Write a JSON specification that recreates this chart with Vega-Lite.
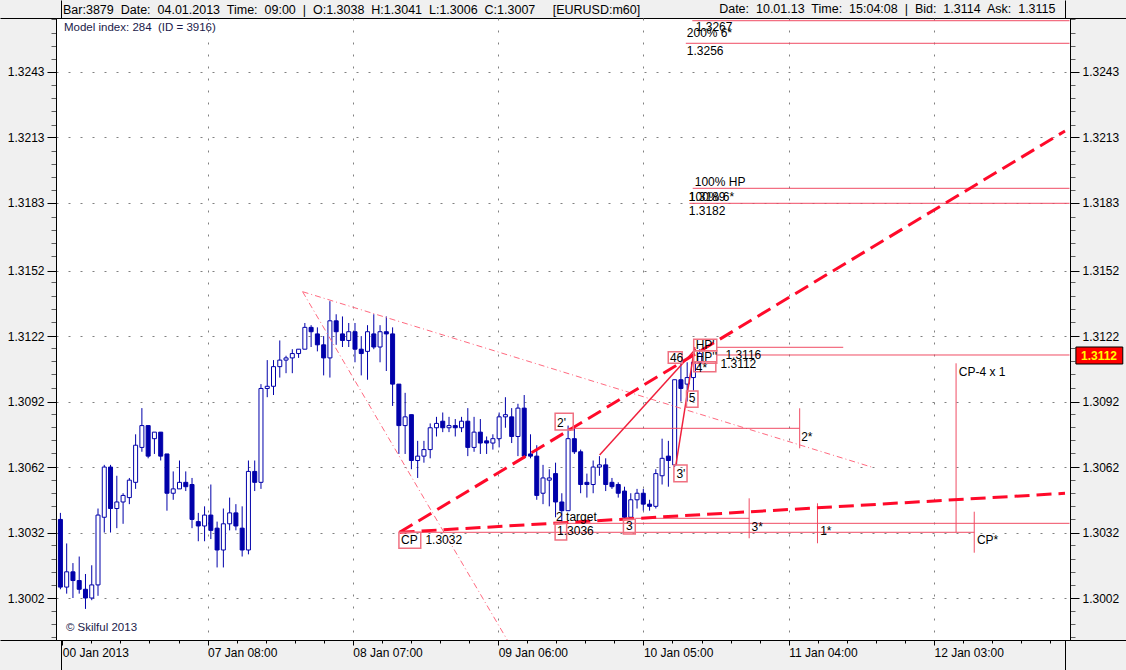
{
  "$schema": "https://vega.github.io/schema/vega-lite/v6.json",
  "width": 1014,
  "height": 622,
  "autosize": {"type": "none"},
  "padding": {"left": 56, "top": 18, "right": 56, "bottom": 30},
  "background": "#f0f0f0",
  "config": {
    "view": {"fill": "#ffffff", "stroke": "#000000", "strokeWidth": 1},
    "axis": {"labelFont": "Liberation Sans", "labelFontSize": 12, "labelColor": "#000000", "domainColor": "#000000", "titleFont": "Liberation Sans"}
  },
  "title": {
    "text": "Bar:3879\u00a0 Date:\u00a0 04.01.2013\u00a0 Time:\u00a0 09:00\u00a0 |\u00a0 O:1.3038\u00a0 H:1.3041\u00a0 L:1.3006\u00a0 C:1.3007\u00a0\u00a0\u00a0\u00a0 [EURUSD:m60]",
    "anchor": "start", "frame": "group", "dx": 7, "offset": -23, "baseline": "middle",
    "font": "Liberation Sans", "fontSize": 12.5, "fontWeight": "normal", "color": "#000000"
  },
  "datasets": {
    "candles": [
      {"i":0,"o":1.3038,"h":1.3041,"l":1.3006,"c":1.3007},
      {"i":1,"o":1.3007,"h":1.3027,"l":1.3004,"c":1.3014},
      {"i":2,"o":1.3014,"h":1.3018,"l":1.3002,"c":1.3010},
      {"i":3,"o":1.3010,"h":1.3021,"l":1.3004,"c":1.3006},
      {"i":4,"o":1.3006,"h":1.3013,"l":1.2997,"c":1.3002},
      {"i":5,"o":1.3002,"h":1.3017,"l":1.3001,"c":1.3008},
      {"i":6,"o":1.3008,"h":1.3043,"l":1.3003,"c":1.3040},
      {"i":7,"o":1.3039,"h":1.3063,"l":1.3032,"c":1.3062},
      {"i":8,"o":1.3062,"h":1.3063,"l":1.3032,"c":1.3043},
      {"i":9,"o":1.3043,"h":1.3058,"l":1.3034,"c":1.3046},
      {"i":10,"o":1.3046,"h":1.3050,"l":1.3036,"c":1.3049},
      {"i":11,"o":1.3048,"h":1.3057,"l":1.3045,"c":1.3056},
      {"i":12,"o":1.3055,"h":1.3077,"l":1.3052,"c":1.3072},
      {"i":13,"o":1.3071,"h":1.3089,"l":1.3069,"c":1.3081},
      {"i":14,"o":1.3081,"h":1.3081,"l":1.3066,"c":1.3067},
      {"i":15,"o":1.3075,"h":1.3078,"l":1.3068,"c":1.3078},
      {"i":16,"o":1.3078,"h":1.3078,"l":1.3065,"c":1.3067},
      {"i":17,"o":1.3068,"h":1.3068,"l":1.3042,"c":1.3050},
      {"i":18,"o":1.3050,"h":1.3060,"l":1.3047,"c":1.3052},
      {"i":19,"o":1.3052,"h":1.3065,"l":1.3052,"c":1.3055},
      {"i":20,"o":1.3055,"h":1.3060,"l":1.3051,"c":1.3053},
      {"i":21,"o":1.3054,"h":1.3057,"l":1.3034,"c":1.3038},
      {"i":22,"o":1.3037,"h":1.3041,"l":1.3028,"c":1.3035},
      {"i":23,"o":1.3035,"h":1.3044,"l":1.3028,"c":1.3040},
      {"i":24,"o":1.3040,"h":1.3054,"l":1.3029,"c":1.3033},
      {"i":25,"o":1.3034,"h":1.3037,"l":1.3016,"c":1.3024},
      {"i":26,"o":1.3024,"h":1.3043,"l":1.3016,"c":1.3036},
      {"i":27,"o":1.3036,"h":1.3048,"l":1.3033,"c":1.3041},
      {"i":28,"o":1.3041,"h":1.3045,"l":1.3033,"c":1.3035},
      {"i":29,"o":1.3034,"h":1.3044,"l":1.3021,"c":1.3024},
      {"i":30,"o":1.3024,"h":1.3065,"l":1.3022,"c":1.3060},
      {"i":31,"o":1.3060,"h":1.3065,"l":1.3051,"c":1.3055},
      {"i":32,"o":1.3055,"h":1.3100,"l":1.3052,"c":1.3098},
      {"i":33,"o":1.3098,"h":1.3111,"l":1.3094,"c":1.3099},
      {"i":34,"o":1.3099,"h":1.3111,"l":1.3095,"c":1.3108},
      {"i":35,"o":1.3108,"h":1.3120,"l":1.3103,"c":1.3111},
      {"i":36,"o":1.3111,"h":1.3113,"l":1.3105,"c":1.3112},
      {"i":37,"o":1.3112,"h":1.3116,"l":1.3105,"c":1.3114},
      {"i":38,"o":1.3114,"h":1.3116,"l":1.3112,"c":1.3116},
      {"i":39,"o":1.3116,"h":1.3128,"l":1.3116,"c":1.3126},
      {"i":40,"o":1.3126,"h":1.3127,"l":1.3117,"c":1.3124},
      {"i":41,"o":1.3123,"h":1.3126,"l":1.3115,"c":1.3118},
      {"i":42,"o":1.3118,"h":1.3122,"l":1.3104,"c":1.3112},
      {"i":43,"o":1.3112,"h":1.3138,"l":1.3103,"c":1.3129},
      {"i":44,"o":1.3129,"h":1.3132,"l":1.3118,"c":1.3124},
      {"i":45,"o":1.3123,"h":1.3131,"l":1.3117,"c":1.3120},
      {"i":46,"o":1.3120,"h":1.3128,"l":1.3117,"c":1.3124},
      {"i":47,"o":1.3124,"h":1.3128,"l":1.3110,"c":1.3116},
      {"i":48,"o":1.3116,"h":1.3122,"l":1.3104,"c":1.3114},
      {"i":49,"o":1.3115,"h":1.3127,"l":1.3102,"c":1.3124},
      {"i":50,"o":1.3123,"h":1.3132,"l":1.3116,"c":1.3117},
      {"i":51,"o":1.3117,"h":1.3127,"l":1.3110,"c":1.3124},
      {"i":52,"o":1.3124,"h":1.3131,"l":1.3106,"c":1.3123},
      {"i":53,"o":1.3123,"h":1.3126,"l":1.3090,"c":1.3100},
      {"i":54,"o":1.3100,"h":1.3100,"l":1.3068,"c":1.3081},
      {"i":55,"o":1.3081,"h":1.3096,"l":1.3068,"c":1.3085},
      {"i":56,"o":1.3086,"h":1.3086,"l":1.3061,"c":1.3065},
      {"i":57,"o":1.3065,"h":1.3074,"l":1.3057,"c":1.3067},
      {"i":58,"o":1.3067,"h":1.3074,"l":1.3064,"c":1.3070},
      {"i":59,"o":1.3070,"h":1.3082,"l":1.3066,"c":1.3080},
      {"i":60,"o":1.3080,"h":1.3085,"l":1.3076,"c":1.3082},
      {"i":61,"o":1.3083,"h":1.3087,"l":1.3078,"c":1.3080},
      {"i":62,"o":1.3080,"h":1.3085,"l":1.3078,"c":1.3081},
      {"i":63,"o":1.3081,"h":1.3084,"l":1.3076,"c":1.3080},
      {"i":64,"o":1.3080,"h":1.3085,"l":1.3078,"c":1.3083},
      {"i":65,"o":1.3083,"h":1.3089,"l":1.3067,"c":1.3071},
      {"i":66,"o":1.3071,"h":1.3085,"l":1.3069,"c":1.3078},
      {"i":67,"o":1.3078,"h":1.3084,"l":1.3068,"c":1.3073},
      {"i":68,"o":1.3074,"h":1.3076,"l":1.3068,"c":1.3073},
      {"i":69,"o":1.3073,"h":1.3077,"l":1.3070,"c":1.3075},
      {"i":70,"o":1.3075,"h":1.3087,"l":1.3071,"c":1.3085},
      {"i":71,"o":1.3085,"h":1.3094,"l":1.3080,"c":1.3086},
      {"i":72,"o":1.3085,"h":1.3089,"l":1.3073,"c":1.3076},
      {"i":73,"o":1.3076,"h":1.3091,"l":1.3067,"c":1.3089},
      {"i":74,"o":1.3089,"h":1.3095,"l":1.3066,"c":1.3067},
      {"i":75,"o":1.3068,"h":1.3077,"l":1.3066,"c":1.3067},
      {"i":76,"o":1.3067,"h":1.3072,"l":1.3047,"c":1.3049},
      {"i":77,"o":1.3050,"h":1.3063,"l":1.3045,"c":1.3057},
      {"i":78,"o":1.3056,"h":1.3061,"l":1.3044,"c":1.3057},
      {"i":79,"o":1.3059,"h":1.3064,"l":1.3039,"c":1.3046},
      {"i":80,"o":1.3046,"h":1.3050,"l":1.3037,"c":1.3042},
      {"i":81,"o":1.3042,"h":1.3081,"l":1.3042,"c":1.3075},
      {"i":82,"o":1.3075,"h":1.3080,"l":1.3068,"c":1.3069},
      {"i":83,"o":1.3069,"h":1.3070,"l":1.3050,"c":1.3054},
      {"i":84,"o":1.3055,"h":1.3059,"l":1.3048,"c":1.3054},
      {"i":85,"o":1.3054,"h":1.3065,"l":1.3050,"c":1.3062},
      {"i":86,"o":1.3062,"h":1.3067,"l":1.3058,"c":1.3063},
      {"i":87,"o":1.3063,"h":1.3066,"l":1.3051,"c":1.3054},
      {"i":88,"o":1.3055,"h":1.3057,"l":1.3052,"c":1.3053},
      {"i":89,"o":1.3054,"h":1.3055,"l":1.3048,"c":1.3050},
      {"i":90,"o":1.3051,"h":1.3053,"l":1.3038,"c":1.3039},
      {"i":91,"o":1.3039,"h":1.3050,"l":1.3038,"c":1.3047},
      {"i":92,"o":1.3047,"h":1.3052,"l":1.3043,"c":1.3050},
      {"i":93,"o":1.3050,"h":1.3052,"l":1.3042,"c":1.3045},
      {"i":94,"o":1.3045,"h":1.3047,"l":1.3042,"c":1.3044},
      {"i":95,"o":1.3044,"h":1.3061,"l":1.3043,"c":1.3059},
      {"i":96,"o":1.3058,"h":1.3075,"l":1.3054,"c":1.3066},
      {"i":97,"o":1.3067,"h":1.3074,"l":1.3053,"c":1.3065},
      {"i":98,"o":1.3063,"h":1.3102,"l":1.3062,"c":1.3102},
      {"i":99,"o":1.3102,"h":1.3110,"l":1.3092,"c":1.3098},
      {"i":100,"o":1.3100,"h":1.3110,"l":1.3092,"c":1.3103},
      {"i":101,"o":1.3103,"h":1.3113,"l":1.3097,"c":1.3110},
      {"i":102,"o":1.3110,"h":1.3116,"l":1.3108,"c":1.3114}
    ],
    "thinSegs": [
      {"x":100.82,"x2":161,"y":1.32665,"y2":1.32665},
      {"x":99.78,"x2":161,"y":1.325615,"y2":1.325615},
      {"x":100.88,"x2":161,"y":1.318971,"y2":1.318971},
      {"x":100.36,"x2":161,"y":1.318284,"y2":1.318284},
      {"x":104.68,"x2":124.9,"y":1.311687,"y2":1.311687},
      {"x":104.68,"x2":161,"y":1.311334,"y2":1.311334},
      {"x":80.98,"x2":117.95,"y":1.307975,"y2":1.307975},
      {"x":91.72,"x2":109.89,"y":1.303852,"y2":1.303852},
      {"x":78.93,"x2":161,"y":1.303622,"y2":1.303622},
      {"x":54.12,"x2":145.8,"y":1.303211,"y2":1.303211},
      {"x":117.95,"x2":117.95,"y":1.308892,"y2":1.307059},
      {"x":109.89,"x2":109.89,"y":1.304768,"y2":1.302936},
      {"x":120.79,"x2":120.79,"y":1.304539,"y2":1.302707},
      {"x":142.9,"x2":142.9,"y":1.310953,"y2":1.303211},
      {"x":145.8,"x2":145.8,"y":1.304154,"y2":1.302276}
    ],
    "redSegs": [
      {"x":86.03,"y":1.306752,"x2":101.36,"y2":1.311609},
      {"x":98.2,"y":1.306294,"x2":101.2,"y2":1.3117}
    ],
    "thickDashed": [
      {"x":54.12,"y":1.303211,"x2":160.28,"y2":1.321597},
      {"x":54.12,"y":1.303211,"x2":160.28,"y2":1.304997}
    ],
    "dashDot": [
      {"x":38.64,"y":1.314234,"x2":129.75,"y2":1.30617},
      {"x":38.64,"y":1.314234,"x2":72.61,"y2":1.297635}
    ],
    "boxes": [
      {"x":54.01,"x2":57.49,"y":1.303211,"y2":1.302477},
      {"x":78.93,"x2":81.82,"y":1.308663,"y2":1.307898},
      {"x":78.93,"x2":80.77,"y":1.303622,"y2":1.302858},
      {"x":89.83,"x2":91.72,"y":1.303806,"y2":1.303133},
      {"x":97.88,"x2":99.98,"y":1.306294,"y2":1.305529},
      {"x":99.89,"x2":101.72,"y":1.309684,"y2":1.308938},
      {"x":96.98,"x2":99.2,"y":1.311485,"y2":1.310954},
      {"x":101.04,"x2":104.72,"y":1.312053,"y2":1.311531},
      {"x":101.04,"x2":104.72,"y":1.311531,"y2":1.310954},
      {"x":101.04,"x2":104.57,"y":1.311027,"y2":1.310569}
    ],
    "labels": [
      {"x":101.36,"y":1.326376,"t":"1.3267"},
      {"x":99.94,"y":1.326064,"t":"200% 6*"},
      {"x":99.94,"y":1.325248,"t":"1.3256"},
      {"x":101.2,"y":1.319274,"t":"100% HP"},
      {"x":100.25,"y":1.318587,"t":"1.3189"},
      {"x":100.25,"y":1.318587,"t":"100% 6*"},
      {"x":100.25,"y":1.317931,"t":"1.3182"},
      {"x":101.36,"y":1.311806,"t":"HP'"},
      {"x":101.36,"y":1.311256,"t":"HP''"},
      {"x":106.1,"y":1.31132,"t":"1.3116"},
      {"x":105.31,"y":1.310944,"t":"1.3112"},
      {"x":101.36,"y":1.310738,"t":"4*"},
      {"x":97.25,"y":1.31121,"t":"46"},
      {"x":100.25,"y":1.309341,"t":"5"},
      {"x":98.28,"y":1.305904,"t":"3'"},
      {"x":79.24,"y":1.308241,"t":"2'"},
      {"x":79.08,"y":1.303925,"t":"2 target"},
      {"x":79.24,"y":1.30327,"t":"1.3036"},
      {"x":90.22,"y":1.303522,"t":"3"},
      {"x":54.36,"y":1.302858,"t":"CP"},
      {"x":58.23,"y":1.302858,"t":"1.3032"},
      {"x":118.18,"y":1.30759,"t":"2*"},
      {"x":110.28,"y":1.303467,"t":"3*"},
      {"x":121.22,"y":1.30327,"t":"1*"},
      {"x":146.22,"y":1.302858,"t":"CP*"},
      {"x":143.33,"y":1.310569,"t":"CP-4 x 1"}
    ],
    "overlay": [
      {"x":0.57,"y":1.326302,"t":"Model index: 284\u00a0 (ID = 3916)"},
      {"x":0.88,"y":1.298826,"t":"\u00a9 Skilful 2013"}
    ],
    "marker": [
      {"x":162.02,"x2":169.5,"y":1.3117,"y2":1.310921,"xm":165.7,"ym":1.31131,"t":"1.3112"}
    ]
  },
  "resolve": {"axis": {"x": "independent", "y": "independent"}},
  "layer": [
    {
      "data": {"name": "candles"},
      "mark": {"type": "rule", "color": "#0000aa", "strokeWidth": 1, "clip": true},
      "encoding": {
        "x": {"field": "i", "type": "quantitative", "scale": {"domain": [0.095, 160.28], "nice": false, "zero": false},
          "axis": {
            "orient": "bottom", "title": null, "domain": true,
            "values": [0.095, 0.3, 4.936, 9.572, 14.208, 18.844, 23.48, 28.116, 32.752, 37.388, 42.024, 46.66, 51.296, 55.932, 60.568, 65.204, 69.84, 74.476, 79.112, 83.748, 88.384, 93.02, 97.656, 102.292, 106.928, 111.564, 116.2, 120.836, 125.472, 130.108, 134.744, 139.38, 144.016, 148.652, 153.288, 157.924, 160.28],
            "labelExpr": "datum.value == 0.3 ? '00 Jan 2013' : datum.value == 23.48 ? '07 Jan 08:00' : datum.value == 46.66 ? '08 Jan 07:00' : datum.value == 69.84 ? '09 Jan 06:00' : datum.value == 93.02 ? '10 Jan 05:00' : datum.value == 116.2 ? '11 Jan 04:00' : datum.value == 139.38 ? '12 Jan 03:00' : ''",
            "labelAlign": "left", "labelBaseline": "top", "labelPadding": 2, "labelFlush": false, "labelOverlap": false, "labelBound": false,
            "tickSize": {"expr": "(datum.value < 0.2 || datum.value > 160) ? 30 : (indexof([0.3,23.48,46.66,69.84,93.02,116.2,139.38], datum.value) >= 0 ? 5 : 3)"},
            "tickColor": "#000000",
            "grid": true, "gridColor": "#808080", "gridDash": [2, 10],
            "gridOpacity": {"expr": "indexof([23.48,46.66,69.84,93.02,116.2,139.38], datum.value) >= 0 ? 1 : 0"}
          }},
        "y": {"field": "l", "type": "quantitative", "scale": {"domain": [1.298276, 1.326774], "nice": false, "zero": false},
          "axis": {
            "orient": "left", "title": null, "domain": true,
            "values": [1.298276, 1.2983925, 1.298995, 1.2995975, 1.3002, 1.3008025, 1.301405, 1.3020075, 1.30261, 1.3032, 1.303815, 1.3044175, 1.30502, 1.3056225, 1.3062, 1.3068275, 1.30743, 1.3080325, 1.308635, 1.3092, 1.30984, 1.3104425, 1.311045, 1.3116475, 1.3122, 1.3128525, 1.313455, 1.3140575, 1.31466, 1.3152, 1.315865, 1.3164675, 1.31707, 1.3176725, 1.3183, 1.3188775, 1.31948, 1.3200825, 1.320685, 1.3213, 1.32189, 1.3224925, 1.323095, 1.3236975, 1.3243, 1.3249025, 1.325505, 1.3261075, 1.32671, 1.326774],
            "labelExpr": "indexof([1.3002,1.3032,1.3062,1.3092,1.3122,1.3152,1.3183,1.3213,1.3243], datum.value) >= 0 ? format(datum.value, '.4f') : ''",
            "labelPadding": 3, "labelFlush": false, "labelOverlap": false, "labelBound": false,
            "tickSize": {"expr": "(datum.value < 1.2983 || datum.value > 1.32675) ? 56 : (indexof([1.3002,1.3032,1.3062,1.3092,1.3122,1.3152,1.3183,1.3213,1.3243], datum.value) >= 0 ? 9 : 5)"},
            "tickColor": {"expr": "(datum.value < 1.2983 || datum.value > 1.32675 || indexof([1.3002,1.3032,1.3062,1.3092,1.3122,1.3152,1.3183,1.3213,1.3243], datum.value) >= 0) ? '#000000' : '#606060'"},
            "grid": true, "gridColor": "#808080", "gridDash": [2, 10],
            "gridOpacity": {"expr": "indexof([1.3002,1.3032,1.3062,1.3092,1.3122,1.3152,1.3183,1.3213,1.3243], datum.value) >= 0 ? 1 : 0"}
          }},
        "y2": {"field": "h"}
      }
    },
    {
      "data": {"name": "candles"},
      "mark": {"type": "bar", "size": 4, "stroke": "#0000aa", "strokeWidth": 1, "clip": true},
      "encoding": {
        "x": {"field": "i", "type": "quantitative", "scale": {"domain": [0.095, 160.28], "nice": false, "zero": false},
          "axis": {
            "orient": "top", "domain": false, "labels": false, "grid": false,
            "values": [0.095, 160.28], "tickSize": 18, "tickColor": "#000000",
            "title": "Date:\u00a0 10.01.13\u00a0 Time:\u00a0 15:04:08\u00a0 |\u00a0 Bid:\u00a0 1.3114\u00a0 Ask:\u00a0 1.3115",
            "titleAnchor": "end", "titleAlign": "right", "titleBaseline": "middle", "titlePadding": -9, "titleX": 999,
            "titleFontSize": 12.5, "titleFontWeight": "normal", "titleColor": "#000000"
          }},
        "y": {"field": "o", "type": "quantitative", "scale": {"domain": [1.298276, 1.326774], "nice": false, "zero": false},
          "axis": {
            "orient": "right", "title": null, "domain": true, "grid": false,
            "values": [1.298276, 1.2983925, 1.298995, 1.2995975, 1.3002, 1.3008025, 1.301405, 1.3020075, 1.30261, 1.3032, 1.303815, 1.3044175, 1.30502, 1.3056225, 1.3062, 1.3068275, 1.30743, 1.3080325, 1.308635, 1.3092, 1.30984, 1.3104425, 1.311045, 1.3116475, 1.3122, 1.3128525, 1.313455, 1.3140575, 1.31466, 1.3152, 1.315865, 1.3164675, 1.31707, 1.3176725, 1.3183, 1.3188775, 1.31948, 1.3200825, 1.320685, 1.3213, 1.32189, 1.3224925, 1.323095, 1.3236975, 1.3243, 1.3249025, 1.325505, 1.3261075, 1.32671, 1.326774],
            "labelExpr": "indexof([1.3002,1.3032,1.3062,1.3092,1.3122,1.3152,1.3183,1.3213,1.3243], datum.value) >= 0 ? format(datum.value, '.4f') : ''",
            "labelPadding": 3, "labelFlush": false, "labelOverlap": false, "labelBound": false,
            "tickSize": {"expr": "(datum.value < 1.2983 || datum.value > 1.32675) ? 56 : (indexof([1.3002,1.3032,1.3062,1.3092,1.3122,1.3152,1.3183,1.3213,1.3243], datum.value) >= 0 ? 9 : 5)"},
            "tickColor": {"expr": "(datum.value < 1.2983 || datum.value > 1.32675 || indexof([1.3002,1.3032,1.3062,1.3092,1.3122,1.3152,1.3183,1.3213,1.3243], datum.value) >= 0) ? '#000000' : '#606060'"}
          }},
        "y2": {"field": "c"},
        "fill": {"condition": {"test": "datum.c > datum.o", "value": "#ffffff"}, "value": "#0000aa"}
      }
    },
    {
      "data": {"name": "dashDot"},
      "mark": {"type": "rule", "color": "#ff6a80", "strokeWidth": 1, "strokeDash": [6, 3, 1, 3], "clip": true},
      "encoding": {
        "x": {"field": "x", "type": "quantitative", "scale": {"domain": [0.095, 160.28], "nice": false, "zero": false}, "axis": null},
        "y": {"field": "y", "type": "quantitative", "scale": {"domain": [1.298276, 1.326774], "nice": false, "zero": false}, "axis": null},
        "x2": {"field": "x2"}, "y2": {"field": "y2"}
      }
    },
    {
      "data": {"name": "thinSegs"},
      "mark": {"type": "rule", "color": "#f04c64", "strokeWidth": 1, "clip": true},
      "encoding": {
        "x": {"field": "x", "type": "quantitative", "scale": {"domain": [0.095, 160.28], "nice": false, "zero": false}, "axis": null},
        "y": {"field": "y", "type": "quantitative", "scale": {"domain": [1.298276, 1.326774], "nice": false, "zero": false}, "axis": null},
        "x2": {"field": "x2"}, "y2": {"field": "y2"}
      }
    },
    {
      "data": {"name": "redSegs"},
      "mark": {"type": "rule", "color": "#f0203c", "strokeWidth": 1.5, "clip": true},
      "encoding": {
        "x": {"field": "x", "type": "quantitative", "scale": {"domain": [0.095, 160.28], "nice": false, "zero": false}, "axis": null},
        "y": {"field": "y", "type": "quantitative", "scale": {"domain": [1.298276, 1.326774], "nice": false, "zero": false}, "axis": null},
        "x2": {"field": "x2"}, "y2": {"field": "y2"}
      }
    },
    {
      "data": {"name": "thickDashed"},
      "mark": {"type": "rule", "color": "#ff0a2a", "strokeWidth": 3, "strokeDash": [15, 7], "clip": true},
      "encoding": {
        "x": {"field": "x", "type": "quantitative", "scale": {"domain": [0.095, 160.28], "nice": false, "zero": false}, "axis": null},
        "y": {"field": "y", "type": "quantitative", "scale": {"domain": [1.298276, 1.326774], "nice": false, "zero": false}, "axis": null},
        "x2": {"field": "x2"}, "y2": {"field": "y2"}
      }
    },
    {
      "data": {"name": "boxes"},
      "mark": {"type": "rect", "fillOpacity": 0, "fill": "#ffffff", "stroke": "#f07080", "strokeWidth": 1.5, "clip": true},
      "encoding": {
        "x": {"field": "x", "type": "quantitative", "scale": {"domain": [0.095, 160.28], "nice": false, "zero": false}, "axis": null},
        "y": {"field": "y", "type": "quantitative", "scale": {"domain": [1.298276, 1.326774], "nice": false, "zero": false}, "axis": null},
        "x2": {"field": "x2"}, "y2": {"field": "y2"}
      }
    },
    {
      "data": {"name": "labels"},
      "mark": {"type": "text", "align": "left", "baseline": "middle", "font": "Liberation Sans", "fontSize": 12, "color": "#000000", "clip": true},
      "encoding": {
        "x": {"field": "x", "type": "quantitative", "scale": {"domain": [0.095, 160.28], "nice": false, "zero": false}, "axis": null},
        "y": {"field": "y", "type": "quantitative", "scale": {"domain": [1.298276, 1.326774], "nice": false, "zero": false}, "axis": null},
        "text": {"field": "t"}
      }
    },
    {
      "data": {"name": "overlay"},
      "mark": {"type": "text", "align": "left", "baseline": "middle", "font": "Liberation Sans", "fontSize": 11.5, "color": "#1a1a4a", "clip": true},
      "encoding": {
        "x": {"field": "x", "type": "quantitative", "scale": {"domain": [0.095, 160.28], "nice": false, "zero": false}, "axis": null},
        "y": {"field": "y", "type": "quantitative", "scale": {"domain": [1.298276, 1.326774], "nice": false, "zero": false}, "axis": null},
        "text": {"field": "t"}
      }
    },
    {
      "data": {"name": "marker"},
      "mark": {"type": "rect", "fill": "#ff0000", "stroke": "#000000", "strokeWidth": 1, "clip": false},
      "encoding": {
        "x": {"field": "x", "type": "quantitative", "scale": {"domain": [0.095, 160.28], "nice": false, "zero": false}, "axis": null},
        "y": {"field": "y", "type": "quantitative", "scale": {"domain": [1.298276, 1.326774], "nice": false, "zero": false}, "axis": null},
        "x2": {"field": "x2"}, "y2": {"field": "y2"}
      }
    },
    {
      "data": {"name": "marker"},
      "mark": {"type": "text", "align": "center", "baseline": "middle", "font": "Liberation Sans", "fontSize": 12, "fontWeight": "bold", "color": "#ffff00", "clip": false},
      "encoding": {
        "x": {"field": "xm", "type": "quantitative", "scale": {"domain": [0.095, 160.28], "nice": false, "zero": false}, "axis": null},
        "y": {"field": "ym", "type": "quantitative", "scale": {"domain": [1.298276, 1.326774], "nice": false, "zero": false}, "axis": null},
        "text": {"field": "t"}
      }
    }
  ]
}
